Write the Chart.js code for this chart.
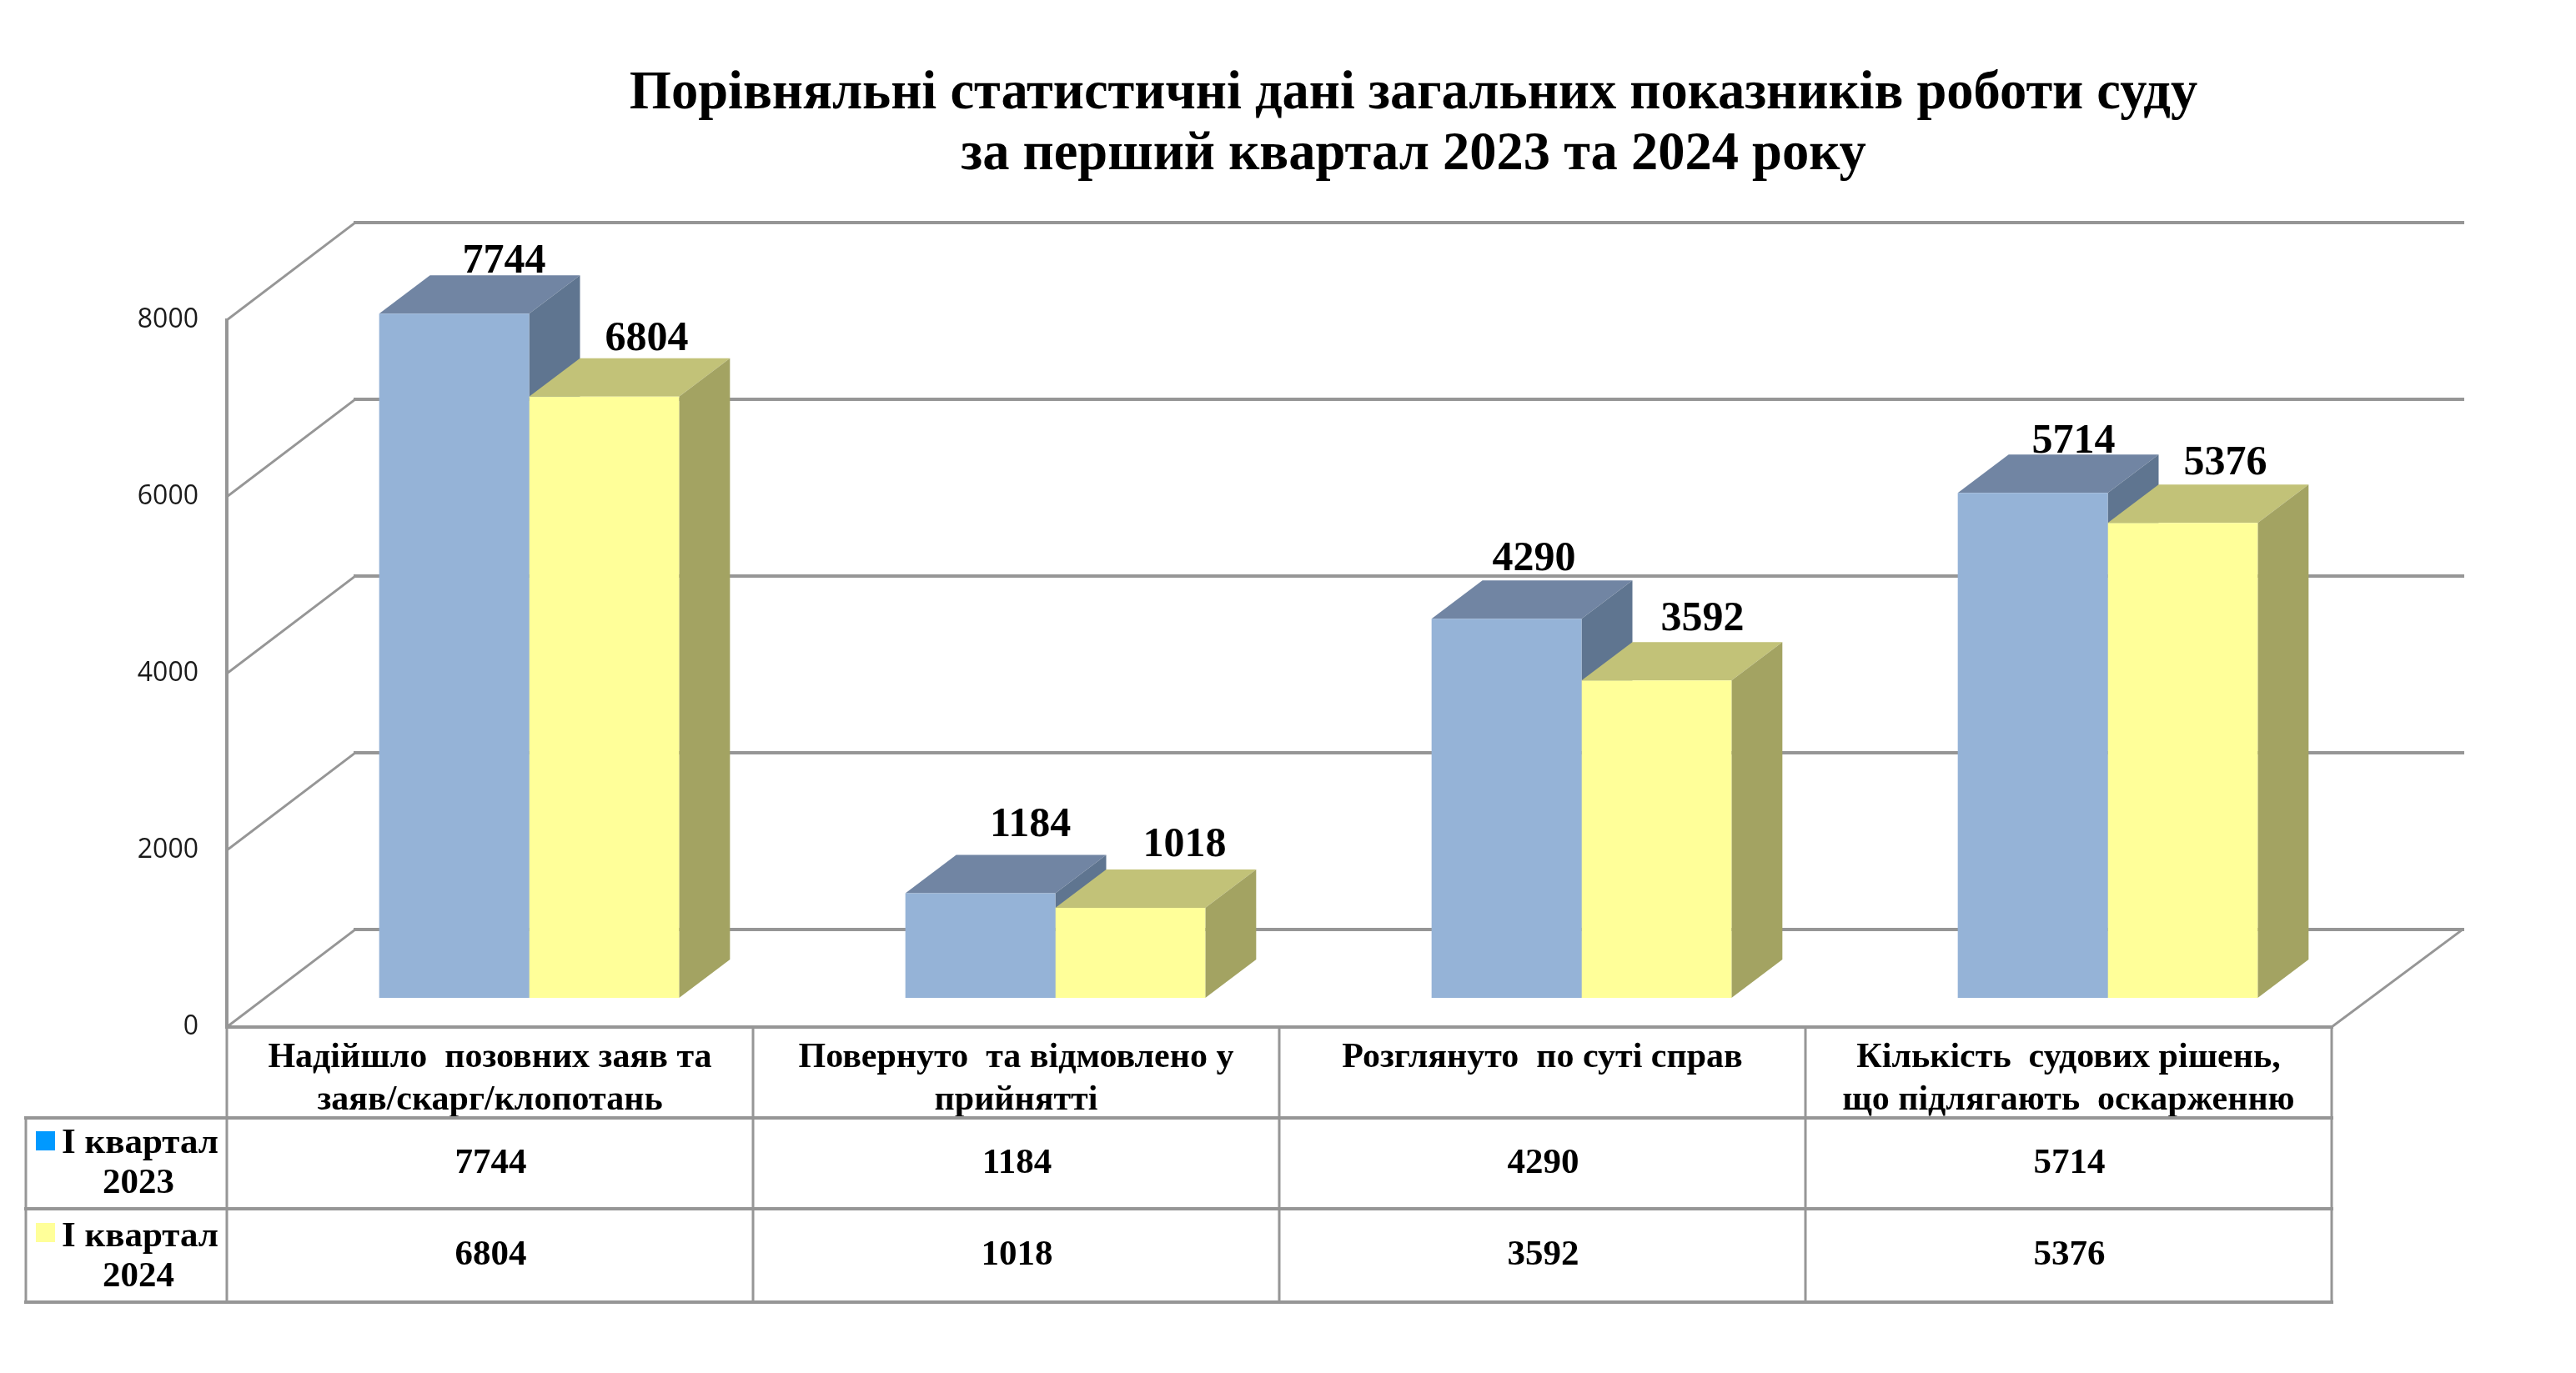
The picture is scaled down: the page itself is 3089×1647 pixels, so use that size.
<!DOCTYPE html>
<html lang="uk">
<head>
<meta charset="utf-8">
<script src="https://cdn.jsdelivr.net/npm/chart.js@4"></script>
<style>html,body{margin:0;padding:0;background:#fff}canvas{display:block}</style>
</head>
<body>
<canvas id="c" width="3089" height="1647"></canvas>
<script>
const categories = [
  ['Надійшло  позовних заяв та', 'заяв/скарг/клопотань'],
  ['Повернуто  та відмовлено у', 'прийнятті'],
  ['Розглянуто  по суті справ'],
  ['Кількість  судових рішень,', 'що підлягають  оскарженню']
];
const q1_2023 = [7744, 1184, 4290, 5714];
const q1_2024 = [6804, 1018, 3592, 5376];
const seriesNames = [['І квартал', '2023'], ['І квартал', '2024']];
const titleLines = ['Порівняльні статистичні дані загальних показників роботи суду', 'за перший квартал 2023 та 2024 року'];
const yTicks = [0, 2000, 4000, 6000, 8000];

const SERIF = '"Liberation Serif", serif';
const GRID = '#969696';
const faces = [
  {front: '#95B3D7', top: '#7185A3', side: '#5F7590', key: '#0099FF'},
  {front: '#FFFF99', top: '#C2C278', side: '#A3A362', key: '#FFFF99'}
];
// oblique projection of the 3D look
const wall = {dx: 154, dy: 117};    // front of the floor to the back wall
const inset = {dx: 47, dy: 35};     // floor front edge to bar front plane
const depth = {dx: 61, dy: 46};     // bar depth
const wallRight = 2953;
const table = {left: 31, rows: [1341, 1450, 1562], valueY: [1396, 1506], keyY: [1357, 1467], keyLineY: [1372, 1420, 1484, 1532]};
// small label placement offsets (dx, gap above the column top), per series and category
const labelDx = [[60, 60, 33, 49], [51, 65, 55, 51]];
const labelGap = [[3, 22, 12, 2], [10, 16, 14, 12]];

function line(ctx, pts, w) {
  ctx.beginPath();
  pts.forEach((p, i) => i ? ctx.lineTo(p[0], p[1]) : ctx.moveTo(p[0], p[1]));
  ctx.lineWidth = w; ctx.strokeStyle = GRID; ctx.stroke();
}
function poly(ctx, pts, fill) {
  ctx.beginPath();
  pts.forEach((p, i) => i ? ctx.lineTo(p[0], p[1]) : ctx.moveTo(p[0], p[1]));
  ctx.closePath(); ctx.fillStyle = fill; ctx.fill();
}

const pseudo3d = {
  id: 'pseudo3d',
  afterLayout(chart) {
    const t = chart.titleBlock;
    t.left = 301; t.right = 3089; t.top = 0;
  },
  beforeDatasetsDraw(chart) {
    const {ctx, chartArea: a, scales: {x, y}} = chart;
    const y0 = y.getPixelForValue(0), yMax = y.getPixelForValue(8000);
    ctx.save();
    ctx.lineCap = 'square';
    // walls: slanted gridlines + horizontals
    yTicks.forEach(v => {
      const py = y.getPixelForValue(v);
      line(ctx, [[a.left, py], [a.left + wall.dx, py - wall.dy]], 3);
      line(ctx, [[a.left + wall.dx, py - wall.dy], [wallRight, py - wall.dy]], 4);
    });
    // left wall edge, floor front and right edge
    line(ctx, [[a.left, yMax], [a.left, y0]], 4);
    line(ctx, [[a.left, y0], [a.right, y0]], 4);
    line(ctx, [[a.right, y0], [wallRight, y0 - wall.dy]], 3);
    // data table
    const bottom = table.rows[table.rows.length - 1];
    table.rows.forEach(r => line(ctx, [[table.left, r], [a.right, r]], 4));
    line(ctx, [[table.left, table.rows[0]], [table.left, bottom]], 3);
    line(ctx, [[a.left, a.bottom], [a.left, bottom]], 3);
    categories.forEach((_, i) => {
      const cx = x.getPixelForValue(i) + (x.getPixelForValue(1) - x.getPixelForValue(0)) / 2;
      line(ctx, [[cx, a.bottom], [cx, bottom]], 3);
    });
    ctx.restore();
    // column tops and sides, back series first
    ctx.save();
    ctx.translate(inset.dx, -inset.dy);
    faces.forEach((f, s) => {
      chart.getDatasetMeta(s).data.forEach(b => {
        const l = b.x - b.width / 2, r = b.x + b.width / 2;
        poly(ctx, [[l, b.y], [l + depth.dx, b.y - depth.dy], [r + depth.dx, b.y - depth.dy], [r, b.y]], f.top);
        poly(ctx, [[r, b.y], [r + depth.dx, b.y - depth.dy], [r + depth.dx, b.base - depth.dy], [r, b.base]], f.side);
      });
    });
    ctx.restore();
  },
  beforeDatasetDraw(chart) {
    chart.ctx.save();
    chart.ctx.translate(inset.dx, -inset.dy);
  },
  afterDatasetDraw(chart) {
    chart.ctx.restore();
  },
  afterDatasetsDraw(chart) {
    const {ctx, scales: {x}} = chart;
    ctx.save();
    ctx.fillStyle = '#000';
    ctx.textAlign = 'center';
    ctx.textBaseline = 'alphabetic';
    // value labels above each column
    ctx.font = 'bold 50px ' + SERIF;
    [q1_2023, q1_2024].forEach((vals, s) => {
      chart.getDatasetMeta(s).data.forEach((b, i) => {
        ctx.fillText(String(vals[i]), b.x + inset.dx + labelDx[s][i], b.y - inset.dy - depth.dy - labelGap[s][i]);
      });
    });
    // table values
    ctx.font = 'bold 43px ' + SERIF;
    ctx.textBaseline = 'middle';
    [q1_2023, q1_2024].forEach((vals, s) => {
      vals.forEach((v, i) => ctx.fillText(String(v), x.getPixelForValue(i) + 1, table.valueY[s]));
    });
    // series keys in the first table column
    seriesNames.forEach((lines, s) => {
      ctx.fillStyle = faces[s].key;
      ctx.fillRect(43, table.keyY[s], 23, 23);
      ctx.fillStyle = '#000';
      ctx.fillText(lines[0], 168, table.keyLineY[s * 2]);
      ctx.fillText(lines[1], 166, table.keyLineY[s * 2 + 1]);
    });
    ctx.restore();
  }
};

Chart.defaults.devicePixelRatio = 1;
new Chart(document.getElementById('c'), {
  type: 'bar',
  data: {
    labels: categories,
    datasets: [
      {label: seriesNames[0].join(' '), data: q1_2023, backgroundColor: faces[0].front, clip: false},
      {label: seriesNames[1].join(' '), data: q1_2024, backgroundColor: faces[1].front, clip: false}
    ]
  },
  options: {
    responsive: false,
    animation: false,
    devicePixelRatio: 1,
    layout: {padding: {left: 0, right: 293, top: 0, bottom: 0}},
    datasets: {bar: {barPercentage: 1, categoryPercentage: 0.57}},
    plugins: {
      legend: {display: false},
      tooltip: {enabled: false},
      title: {
        display: true,
        text: titleLines,
        color: '#000',
        font: {family: SERIF, size: 64.5, weight: 'bold', lineHeight: 73 / 64.5},
        padding: {top: 77, bottom: 161}
      }
    },
    scales: {
      x: {
        grid: {display: false},
        border: {display: false},
        afterFit(s) { s.height = 415; },
        ticks: {
          color: '#000', autoSkip: false, maxRotation: 0, minRotation: 0, padding: 4,
          font: {family: SERIF, size: 42, weight: 'bold', lineHeight: 51 / 42}
        }
      },
      y: {
        min: 0, max: 8000,
        grid: {display: false, drawTicks: false},
        border: {display: false},
        afterFit(s) { s.width = 272; },
        afterBuildTicks(s) { s.ticks = yTicks.map(v => ({value: v})); },
        ticks: {
          color: '#1a1a1a', padding: 34,
          callback: v => String(v),
          font: {family: '"Open Sans", sans-serif', size: 32}
        }
      }
    }
  },
  plugins: [pseudo3d]
});
</script>
</body>
</html>
